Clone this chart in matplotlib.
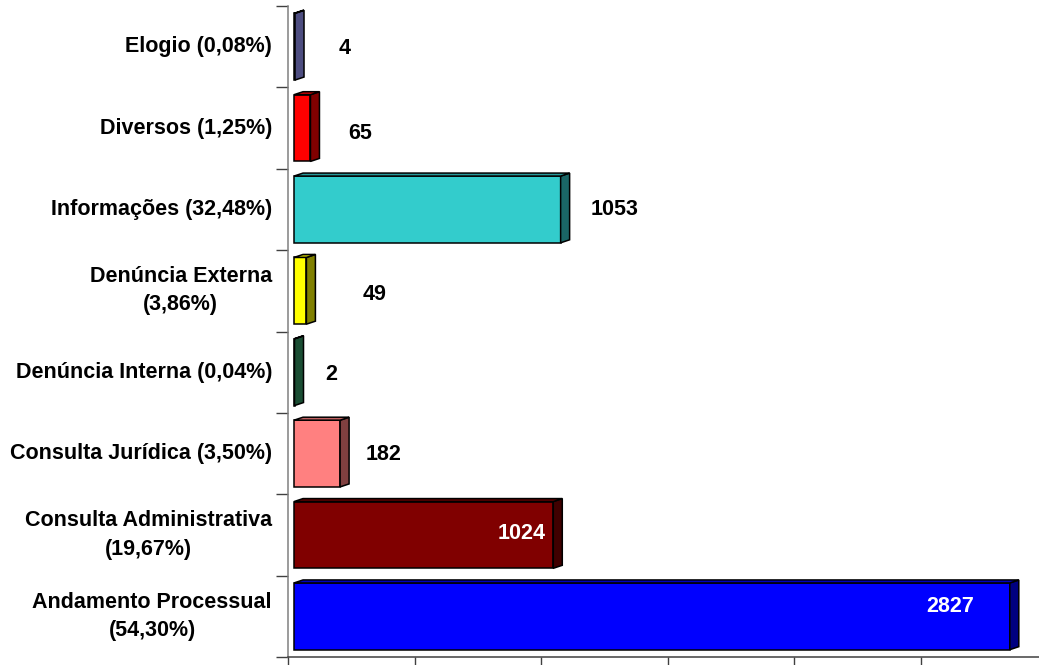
import numpy as np
import matplotlib
matplotlib.use("Agg")
import matplotlib.pyplot as plt
from matplotlib.patches import Polygon
from matplotlib.ticker import MultipleLocator, FixedLocator, NullFormatter

plt.rcParams['font.family'] = ['Liberation Sans', 'DejaVu Sans']

# data, top to bottom as in the chart
categories = ["Elogio (0,08%)", "Diversos (1,25%)", "Informações (32,48%)",
              "Denúncia Externa\n(3,86%)", "Denúncia Interna (0,04%)",
              "Consulta Jurídica (3,50%)", "Consulta Administrativa\n(19,67%)",
              "Andamento Processual\n(54,30%)"]
values = [4, 65, 1053, 49, 2, 182, 1024, 2827]
colors = ["#9999ff", "#ff0000", "#33cccc", "#ffff00", "#339966",
          "#ff8080", "#800000", "#0000ff"]

# label nudges (pixels) relative to bar end / band centre
lab_dx = [50, 50, 54, 68, 37, 43, -32, -60]
lab_dy = [2, 5, 0, 4, 2, 1, -1, -10]
lab_col = ["black"] * 6 + ["white", "white"]

W, H = 1039, 665
fig = plt.figure(figsize=(W / 100, H / 100), dpi=100)
ax = fig.add_axes([288 / W, 1 - 657 / H, 1 - 288 / W, (657 - 6) / H])

n = len(values)
ypos = np.arange(n)[::-1]
xmax = 2966
ax.set_xlim(0, xmax)
ax.set_ylim(-0.5, n - 0.5)

px_x = xmax / (W - 288)          # data units per pixel, x
px_y = n / (657 - 6)             # data units per pixel, y
base = 6 * px_x
ddx, ddy = 9 * px_x, 3 * px_y

bars = ax.barh(ypos, values, left=base, height=0.82, color=colors,
               edgecolor="black", linewidth=1.1, zorder=3)

def shade(c, f):
    r, g, b = matplotlib.colors.to_rgb(c)
    return (r * f, g * f, b * f)

for b, c in zip(bars, colors):
    x0, y0 = b.get_x(), b.get_y()
    x1, y1 = x0 + b.get_width(), y0 + b.get_height()
    side = Polygon([(x1, y0), (x1, y1), (x1 + ddx, y1 + ddy), (x1 + ddx, y0 + ddy)],
                   closed=True, facecolor=shade(c, 0.5), edgecolor="black",
                   linewidth=1.1, zorder=4)
    top = Polygon([(x0, y1), (x1, y1), (x1 + ddx, y1 + ddy), (x0 + ddx, y1 + ddy)],
                  closed=True, facecolor=shade(c, 0.75), edgecolor="black",
                  linewidth=1.1, zorder=4)
    ax.add_patch(side)
    ax.add_patch(top)

for b, v, dx, dy, tc in zip(bars, values, lab_dx, lab_dy, lab_col):
    ax.annotate(str(v), xy=(b.get_x() + b.get_width(), b.get_y() + b.get_height() / 2),
                xytext=(dx * 0.72, -dy * 0.72), textcoords="offset points",
                ha="center", va="center", fontsize=15.5, fontweight="bold",
                color=tc, zorder=6)

for y, lab in zip(ypos, categories):
    ax.text(-16 / (W - 288), y, lab, transform=ax.get_yaxis_transform(),
            ha="right", va="center", multialignment="center", linespacing=1.45,
            fontsize=15.5, fontweight="bold")

ax.xaxis.set_major_locator(MultipleLocator(500))
ax.xaxis.set_major_formatter(NullFormatter())
ax.tick_params(axis="x", direction="out", length=7, width=1, color="#404040")
ax.yaxis.set_major_locator(FixedLocator([]))
ax.yaxis.set_minor_locator(FixedLocator(np.arange(-0.5, n, 1.0)))
ax.yaxis.set_minor_formatter(NullFormatter())
ax.tick_params(axis="y", which="minor", direction="out", length=8.6, width=1,
               color="#404040")

for s in ["top", "right"]:
    ax.spines[s].set_visible(False)
ax.spines["left"].set_color("#808080")
ax.spines["bottom"].set_color("#404040")
ax.spines["left"].set_linewidth(1.1)
ax.spines["bottom"].set_linewidth(1.1)

fig.savefig("out.png", dpi=100)
